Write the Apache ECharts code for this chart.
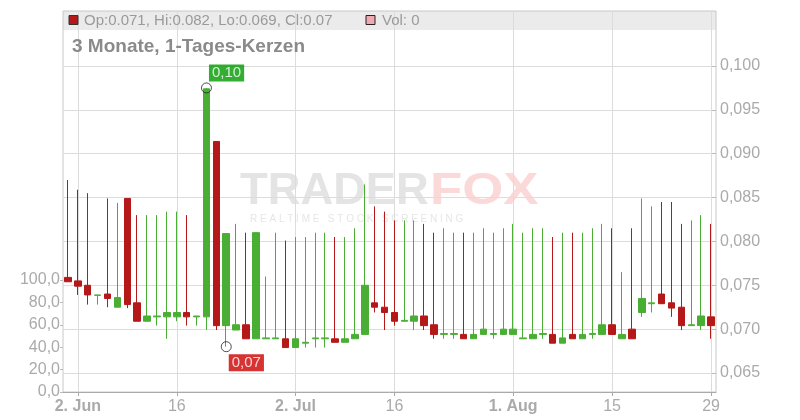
<!DOCTYPE html>
<html>
<head>
<meta charset="utf-8">
<script src="https://cdn.jsdelivr.net/npm/echarts@6/dist/echarts.min.js"></script>
<style>
html,body{margin:0;padding:0;background:#fff;}
#chart{width:800px;height:420px;}
</style>
</head>
<body>
<div id="chart"></div>
<script>
// Trading days (categories)
const dates = [
  '2025-05-30',
  '2025-06-02','2025-06-03','2025-06-04','2025-06-05','2025-06-06',
  '2025-06-09','2025-06-10','2025-06-11','2025-06-12','2025-06-13',
  '2025-06-16','2025-06-17','2025-06-18','2025-06-19','2025-06-20',
  '2025-06-23','2025-06-24','2025-06-25','2025-06-26','2025-06-27',
  '2025-06-30','2025-07-01','2025-07-02','2025-07-03','2025-07-04',
  '2025-07-07','2025-07-08','2025-07-09','2025-07-10','2025-07-11',
  '2025-07-14','2025-07-15','2025-07-16','2025-07-17','2025-07-18',
  '2025-07-21','2025-07-22','2025-07-23','2025-07-24','2025-07-25',
  '2025-07-28','2025-07-29','2025-07-30','2025-07-31','2025-08-01',
  '2025-08-04','2025-08-05','2025-08-06','2025-08-07','2025-08-08',
  '2025-08-11','2025-08-12','2025-08-13','2025-08-14','2025-08-15',
  '2025-08-18','2025-08-19','2025-08-20','2025-08-21','2025-08-22',
  '2025-08-25','2025-08-26','2025-08-27','2025-08-28','2025-08-29'
];
const openV = [
  0.0759,0.0755,0.0750,0.07385,0.0740,0.0725,0.0849,0.0730,0.0709,0.0714,
  0.0714,0.0714,0.0719,0.0714,0.0714,0.0914,0.0704,0.0699,0.0705,0.0689,
  0.0689,0.0689,0.0689,0.0679,0.0684,0.0689,0.0689,0.0689,0.0685,0.0689,
  0.0694,0.0730,0.0725,0.0719,0.0709,0.0709,0.0715,0.0705,0.0694,0.0694,
  0.0694,0.0689,0.0694,0.0694,0.0694,0.0694,0.0689,0.0689,0.0694,0.0694,
  0.0684,0.0694,0.0689,0.0694,0.0694,0.0705,0.0689,0.0700,0.0719,0.0729,
  0.0740,0.0730,0.0725,0.0704,0.0704,0.0714
];
const closeV = [
  0.0754,0.0749,0.0739,0.0739,0.0735,0.0736,0.0728,0.0709,0.0715,0.0715,
  0.0719,0.0719,0.0714,0.0715,0.0974,0.0704,0.0809,0.0705,0.0689,0.0810,
  0.0690,0.0690,0.0679,0.0689,0.0685,0.0690,0.0690,0.0685,0.0689,0.0694,
  0.0750,0.0725,0.0719,0.0709,0.0710,0.0715,0.0704,0.0694,0.0695,0.0695,
  0.0689,0.0694,0.0700,0.0695,0.0700,0.0700,0.0690,0.0694,0.0695,0.0684,
  0.0690,0.0689,0.0694,0.0695,0.0705,0.0694,0.0694,0.0689,0.0735,0.0730,
  0.0729,0.0724,0.0704,0.0705,0.0715,0.0704
];
const lowV = [
  0.0754,0.0739,0.0728,0.0728,0.0725,0.0725,0.0724,0.0709,0.0709,0.0704,
  0.0689,0.0709,0.0704,0.0704,0.0699,0.0699,0.0680,0.0699,0.0689,0.0689,
  0.0689,0.0689,0.0679,0.0679,0.0679,0.0679,0.0679,0.0685,0.0685,0.0689,
  0.0694,0.0719,0.0699,0.0704,0.0709,0.0699,0.0699,0.0689,0.0689,0.0689,
  0.0689,0.0689,0.0694,0.0689,0.0694,0.0694,0.0689,0.0689,0.0689,0.0684,
  0.0684,0.0689,0.0689,0.0689,0.0694,0.0694,0.0689,0.0689,0.0714,0.0719,
  0.0729,0.0714,0.0699,0.0704,0.0699,0.0689
];
const highV = [
  0.0870,0.0859,0.0855,0.0739,0.0849,0.0844,0.0849,0.0830,0.0830,0.0830,
  0.0834,0.0834,0.0830,0.0715,0.0975,0.0914,0.0809,0.0820,0.0810,0.0810,
  0.0760,0.0810,0.0801,0.0805,0.0805,0.0810,0.0810,0.0805,0.0805,0.0815,
  0.0865,0.0840,0.0834,0.0824,0.0824,0.0824,0.0820,0.0810,0.0815,0.0810,
  0.0810,0.0810,0.0815,0.0810,0.0815,0.0820,0.0810,0.0815,0.0815,0.0805,
  0.0810,0.0810,0.0810,0.0815,0.0820,0.0815,0.0765,0.0815,0.0849,0.0840,
  0.0845,0.0845,0.0820,0.0824,0.0830,0.0820
];
const volumeV = new Array(66).fill(0);

// Tick labels on the date axis
const tickIdx  = [1, 11, 23, 33, 45, 55, 65];
const tickText = ['2. Jun', '16', '2. Jul', '16', '1. Aug', '15', '29'];
const tickBold = [true, false, true, false, true, false, false];

// High / low markers
const hiIdx = 14, hiVal = 0.0975, hiText = '0,10';
const loIdx = 16, loVal = 0.0680, loText = '0,07';

const priceMin = 0.065, priceMax = 0.100, priceStep = 0.005;
const volMin = 0, volMax = 100, volStep = 20;

const FONT = '"Liberation Sans", Arial, sans-serif';
const UP = '#4aae34', DOWN = '#b41818';

const candleData = dates.map((d, i) => [openV[i], closeV[i], lowV[i], highV[i]]);
const isTick = (i) => tickIdx.indexOf(i) >= 0;

const last = dates.length - 1;
const fmt3 = (v) => String(Number(v.toFixed(3)));
const legendText = 'Op:' + fmt3(openV[last]) + ', Hi:' + fmt3(highV[last]) +
  ', Lo:' + fmt3(lowV[last]) + ', Cl:' + fmt3(closeV[last]);

const chart = echarts.init(document.getElementById('chart'), null, {renderer: 'canvas'});
const L = 63, R = 84;

chart.setOption({
  animation: false,
  backgroundColor: '#fff',
  textStyle: {fontFamily: FONT},
  grid: [
    {left: L, right: R, top: 11, bottom: 28, show: true, borderColor: '#c8c8c8', borderWidth: 1, backgroundColor: 'transparent'},
    {left: L, right: R, top: 66, bottom: 47},
    {left: L, right: R, top: 280, bottom: 28}
  ],
  graphic: [
    {type: 'rect', z: -2, shape: {x: L, y: 11, width: 800 - L - R, height: 19}, style: {fill: '#ebebeb'}},
    {type: 'rect', z: 5, shape: {x: 69, y: 15.5, width: 9, height: 9}, style: {fill: DOWN, stroke: '#333', lineWidth: 1}},
    {type: 'text', z: 5, x: 84, y: 20.5, style: {text: legendText, fill: '#9a9a9a', font: '15px ' + FONT, textVerticalAlign: 'middle'}},
    {type: 'rect', z: 5, shape: {x: 366, y: 15.5, width: 9, height: 9}, style: {fill: '#f1a9b1', stroke: '#222', lineWidth: 1}},
    {type: 'text', z: 5, x: 382, y: 20.5, style: {text: 'Vol: ' + volumeV[last], fill: '#9a9a9a', font: '15px ' + FONT, textVerticalAlign: 'middle'}},
    {type: 'text', z: 5, x: 72, y: 47, style: {text: '3 Monate, 1-Tages-Kerzen', fill: '#8a8a8a', font: 'bold 19px ' + FONT, textVerticalAlign: 'middle'}},
    {type: 'text', z: -1, x: 240, y: 192, scaleX: 1.03, style: {text: 'TRADER', fill: '#e4e4e4', font: 'bold 44px ' + FONT, textVerticalAlign: 'middle'}},
    {type: 'text', z: -1, x: 430, y: 192, scaleX: 1.2, style: {text: 'FOX', fill: '#fbd9d9', font: 'bold 44px ' + FONT, textVerticalAlign: 'middle'}},
    {type: 'text', z: -1, x: 250, y: 219, style: {text: 'R E A L T I M E   S T O C K   S C R E E N I N G', fill: '#e6e6e6', font: '10px ' + FONT, textVerticalAlign: 'middle'}}
  ],
  xAxis: [
    {
      gridIndex: 0, type: 'category', data: dates, boundaryGap: true,
      axisLine: {show: true, lineStyle: {color: '#aaa', width: 1}},
      axisTick: {show: true, interval: (i) => isTick(i), alignWithLabel: true, length: 4, lineStyle: {color: '#aaa'}},
      axisLabel: {
        interval: (i) => isTick(i), margin: 7,
        formatter: (v, i) => { const k = tickIdx.indexOf(i); return k < 0 ? '' : (tickBold[k] ? '{b|' : '{n|') + tickText[k] + '}'; },
        rich: {
          b: {fontWeight: 'bold', fontSize: 16, color: '#aaa', fontFamily: FONT},
          n: {fontSize: 16, color: '#aaa', fontFamily: FONT}
        }
      },
      splitLine: {show: true, interval: (i) => isTick(i), alignWithLabel: true, lineStyle: {color: '#dcdcdc', width: 1}}
    },
    {gridIndex: 1, type: 'category', data: dates, boundaryGap: true, show: false},
    {gridIndex: 2, type: 'category', data: dates, boundaryGap: true, show: false}
  ],
  yAxis: [
    {gridIndex: 0, type: 'value', min: 0, max: 1, show: false},
    {
      gridIndex: 1, type: 'value', position: 'right', min: priceMin, max: priceMax, interval: priceStep,
      axisLine: {show: false},
      axisTick: {show: true, inside: true, length: 4, lineStyle: {color: '#bbb'}},
      axisLabel: {margin: 4, fontSize: 16, color: '#aaa', fontFamily: FONT, formatter: (v) => v.toFixed(3).replace('.', ',')},
      splitLine: {show: true, lineStyle: {color: '#dcdcdc', width: 1}}
    },
    {
      gridIndex: 2, type: 'value', position: 'left', min: volMin, max: volMax, interval: volStep,
      axisLine: {show: false},
      axisTick: {show: true, length: 3, lineStyle: {color: '#bbb'}},
      axisLabel: {margin: 3, fontSize: 16, color: '#aaa', fontFamily: FONT, formatter: (v) => v.toFixed(1).replace('.', ',')},
      splitLine: {show: false}
    }
  ],
  series: [
    {
      type: 'bar', xAxisIndex: 2, yAxisIndex: 2, data: volumeV, barWidth: 7,
      itemStyle: {color: '#f1a9b1'}, z: 1
    },
    {
      type: 'candlestick', xAxisIndex: 1, yAxisIndex: 1, data: candleData, barWidth: 7,
      itemStyle: {color: UP, color0: DOWN, borderColor: UP, borderColor0: DOWN, borderColorDoji: UP, borderWidth: 1},
      z: 3
    },
    {
      type: 'scatter', xAxisIndex: 1, yAxisIndex: 1, z: 5,
      symbol: 'circle', symbolSize: 10,
      itemStyle: {color: 'rgba(255,255,255,0)', borderColor: '#222', borderWidth: 1},
      data: [
        {value: [hiIdx, hiVal], label: {show: true, formatter: hiText, position: [8, -18], align: 'left', verticalAlign: 'top', backgroundColor: '#009a00', color: '#fff', fontSize: 15, fontFamily: FONT, padding: [1, 3, 1, 3], lineHeight: 15}},
        {value: [loIdx, loVal], label: {show: true, formatter: loText, position: [8, 13], align: 'left', verticalAlign: 'top', backgroundColor: '#cc0000', color: '#fff', fontSize: 15, fontFamily: FONT, padding: [1, 3, 1, 3], lineHeight: 15}}
      ]
    }
  ]
});
</script>
</body>
</html>
